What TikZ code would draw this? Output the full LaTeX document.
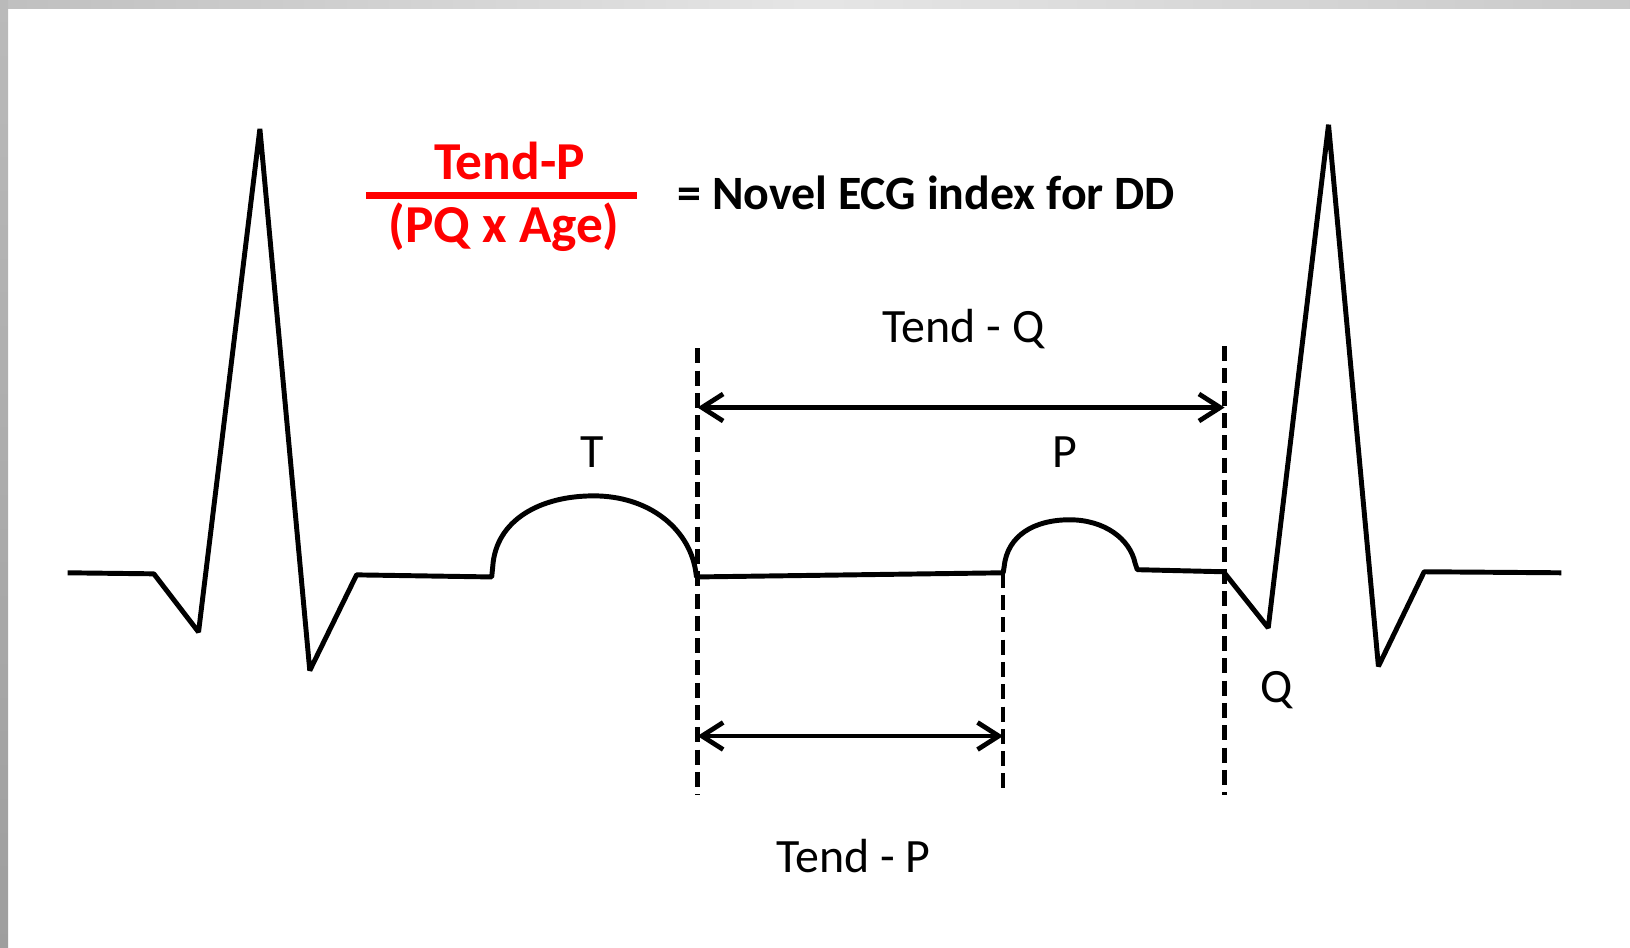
\documentclass[tikz,border=0pt]{standalone}
\usepackage{fontspec}
\setmainfont{Carlito}
\usetikzlibrary{arrows.meta}
\definecolor{ecgred}{RGB}{255,0,0}
\tikzset{
  ecg/.style={line width=1.35pt, line join=bevel, line cap=butt},
  guide/.style={line width=1.2pt, dash pattern=on 4.1pt off 2.0pt},
  dimline/.style={line width=1.3pt, {Straight Barb[length=5.8pt,width=7.4pt,line width=1.3pt]}-{Straight Barb[length=5.8pt,width=7.4pt,line width=1.3pt]}},
  lab/.style={inner sep=0pt, anchor=base, font=\fontsize{13.1pt}{15pt}\selectfont},
  redtxt/.style={inner sep=0pt, anchor=base, text=ecgred, font=\fontsize{14.6pt}{16pt}\selectfont\bfseries},
  blktxt/.style={inner sep=0pt, anchor=base west, font=\fontsize{13.1pt}{16pt}\selectfont\bfseries}
}
\begin{document}
\begin{tikzpicture}[x=0.01cm, y=-0.01cm]
\useasboundingbox (0,0) rectangle (1568,911);
\fill[white] (0,0) rectangle (1568,911);
% frame shading
\shade[left color=black!25, right color=black!21, middle color=black!10] (0,0) rectangle (1568,7.7);
\shade[top color=black!27, bottom color=black!38] (0,0) rectangle (7.7,911);

% ECG trace
\draw[ecg] (65,551) -- (148,552) -- (191,608) -- (250,124) -- (298,645) -- (343,553) -- (473,555)
  -- (474,545) .. controls (477,500) and (520,477) .. (571,477)
  .. controls (624,477) and (662,508) .. (669,548) -- (670,555)
  -- (965,551) -- (966,545) .. controls (969,515) and (995,500) .. (1029,500)
  .. controls (1062,500) and (1087,518) .. (1092,542) -- (1094,548)
  -- (1177,550) -- (1220,604) -- (1278,120) -- (1326,641) -- (1370,550) -- (1502,551);

% guide coordinates
\coordinate (g1top) at (671,335);
\coordinate (g1bot) at (671,765);
\coordinate (g2top) at (965,551);
\coordinate (g2bot) at (965,765);
\coordinate (g3top) at (1178,333);
\coordinate (g3bot) at (1178,765);
\draw[guide] (g1top) -- (g1bot);
\draw[guide] (g2top) -- (g2bot);
\draw[guide] (g3top) -- (g3bot);

% dimension arrows
\coordinate (qa) at (671,392);
\coordinate (qb) at (1178,392);
\coordinate (pa) at (671,708);
\coordinate (pb) at (965,708);
\draw[dimline] (qa) -- (qb);
\draw[dimline] (pa) -- (pb);

% labels
\node[lab] (tendq) at (927,329) {Tend - Q};
\node[lab] (tendp) at (821,839) {Tend - P};
\node[lab] (tlab) at (570,450) {T};
\node[lab] (plab) at (1024,450) {P};
\node[lab] (qlab) at (1228,676) {Q};

% formula
\node[redtxt] (num) at (490,173) {Tend-P};
\node[redtxt] (den) at (485,233) {(PQ x Age)};
\coordinate (fl) at (352,188);
\coordinate (fr) at (613,188);
\draw[line width=1.7pt, ecgred] (fl) -- (fr);
\node[blktxt] (eq) at (651,202) {= Novel ECG index for DD};
\end{tikzpicture}
\end{document}
